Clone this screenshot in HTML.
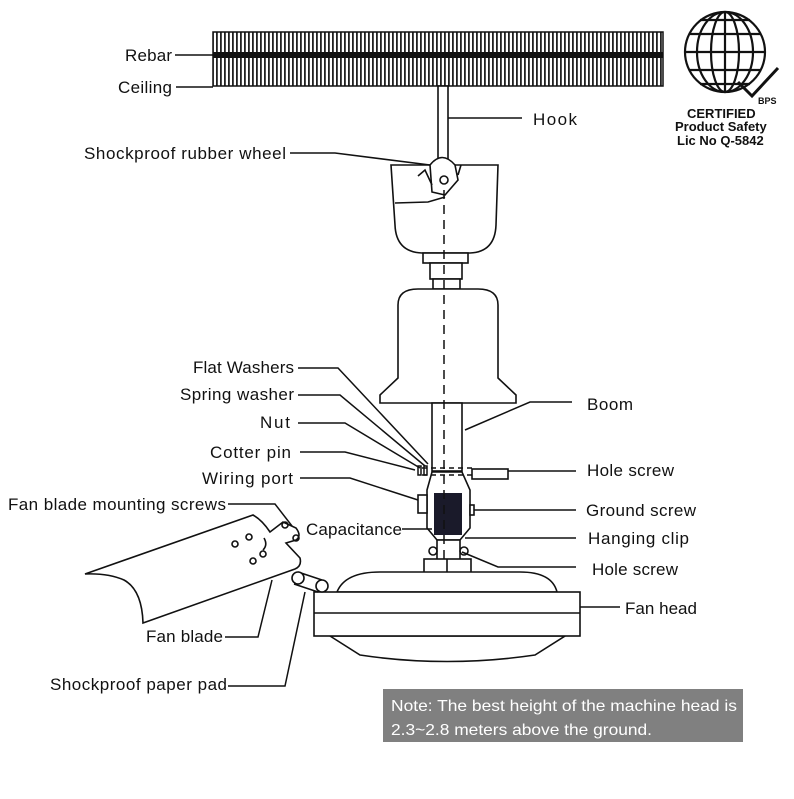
<!DOCTYPE html>
<html><head><meta charset="utf-8"><style>
html,body{margin:0;padding:0;background:#fff;}
svg text{font-family:"Liberation Sans",sans-serif;}
</style></head><body>
<svg width="794" height="794" viewBox="0 0 794 794" xmlns="http://www.w3.org/2000/svg">
<defs>
<pattern id="hatch" width="4" height="10" patternUnits="userSpaceOnUse">
<rect x="0" y="0" width="1.8" height="10" fill="#222"/>
</pattern>
</defs>
<rect width="794" height="794" fill="#fff"/>
<rect x="213" y="32" width="450" height="54" fill="url(#hatch)" stroke="#111" stroke-width="1.5"/>
<rect x="213" y="52" width="450" height="6" fill="#111"/>
<g stroke="#111" stroke-width="1.6" fill="none">
<rect x="438" y="86" width="10" height="80" fill="#fff"/>
<path d="M391,165 L498,165 L496,225 Q495,252 470,253 L422,253 Q396,252 395,225 Z" fill="#fff"/>
<path d="M395,203 L428,202 L445,197"/>
<path d="M430,165 Q442,150 455,165 L458,180 L445,195 L432,192 Z" fill="#fff"/>
<circle cx="444" cy="180" r="4"/>
<path d="M418,176 L425,170 L432,185"/>
<path d="M461,165 L458,175"/>
<rect x="423" y="253" width="45" height="10" fill="#fff"/>
<rect x="430" y="263" width="32" height="16" fill="#fff"/>
<rect x="433" y="279" width="27" height="10" fill="#fff"/>
<path d="M398,378 L398,305 Q398,289 418,289 L478,289 Q498,289 498,305 L498,378 L516,395 L516,403 L380,403 L380,395 Z" fill="#fff"/>
<rect x="432" y="403" width="30" height="68" fill="#fff"/>
<rect x="472" y="469" width="36" height="10" fill="#fff"/>
<path d="M432,472 L462,472 L470,490 L470,528 L460,540 L437,540 L427,528 L427,490 Z" fill="#fff"/>
<rect x="418" y="495" width="9" height="18" fill="#fff"/>
<rect x="470" y="505" width="4" height="10" fill="#fff"/>
<rect x="437" y="540" width="23" height="20" fill="#fff"/>
<circle cx="433" cy="551" r="4"/><circle cx="464" cy="551" r="4"/>
<rect x="424" y="559" width="47" height="14" fill="#fff"/>
<line x1="447" y1="559" x2="447" y2="573"/>
<path d="M337,592 Q345,572 380,572 L520,572 Q552,572 557,592 Z" fill="#fff"/>
<path d="M330,636 L360,655 Q447,668 535,655 L565,636 Z" fill="#fff"/>
<rect x="314" y="592" width="266" height="44" fill="#fff"/>
<line x1="314" y1="613" x2="580" y2="613"/>
<path d="M85,574 L253,515 Q262,520 270,532 L283,522 L296,528 Q302,536 296,540 L286,543 L300,558 Q302,566 295,569 L143,623 Q142,590 124,580 Q108,573 85,574 Z" fill="#fff"/>
<circle cx="285" cy="525" r="3"/><circle cx="296" cy="538" r="3"/>
<circle cx="249" cy="537" r="3"/><circle cx="235" cy="544" r="3"/>
<circle cx="263" cy="554" r="3"/><circle cx="253" cy="561" r="3"/>
<path d="M263,550 Q268,545 264,538"/>
<path d="M298,572 L322,580 M294,584 L318,592"/>
<circle cx="298" cy="578" r="6" fill="#fff"/><circle cx="322" cy="586" r="6" fill="#fff"/>
</g>
<rect x="434" y="493" width="28" height="42" fill="#1a1a2a"/>
<g stroke="#111" stroke-width="1.5" stroke-dasharray="9,6">
<line x1="444" y1="190" x2="444" y2="560"/>
</g>
<g stroke="#111" stroke-width="1.5" fill="none">
<line x1="422" y1="468" x2="472" y2="468" stroke-dasharray="5,4"/>
<line x1="422" y1="475" x2="472" y2="475" stroke-dasharray="5,4"/>
<rect x="418" y="466" width="3" height="9"/><rect x="424" y="466" width="3" height="9"/>
<line x1="175" y1="55" x2="213" y2="55"/>
<line x1="176" y1="87" x2="213" y2="87"/>
<line x1="448" y1="118" x2="522" y2="118"/>
<polyline points="290,153 335,153 430,165"/>
<polyline points="298,368 338,368 428,464"/>
<polyline points="298,395 340,395 425,466"/>
<polyline points="298,423 345,423 420,468"/>
<polyline points="300,452 345,452 415,470"/>
<polyline points="300,478 350,478 418,500"/>
<polyline points="228,504 275,504 292,526"/>
<line x1="402" y1="529" x2="432" y2="529"/>
<polyline points="572,402 530,402 465,430"/>
<line x1="508" y1="471" x2="576" y2="471"/>
<line x1="474" y1="510" x2="576" y2="510"/>
<line x1="465" y1="538" x2="576" y2="538"/>
<polyline points="462,552 498,567 576,567"/>
<line x1="580" y1="607" x2="620" y2="607"/>
<polyline points="225,637 258,637 272,580"/>
<polyline points="228,686 285,686 305,592"/>
</g>
<g font-size="17" fill="#111" lengthAdjust="spacingAndGlyphs">
<text x="125" y="61" textLength="47">Rebar</text>
<text x="118" y="93" textLength="54">Ceiling</text>
<text x="533" y="125" textLength="44">Hook</text>
<text x="84" y="159" textLength="202">Shockproof rubber wheel</text>
<text x="193" y="373" textLength="101">Flat Washers</text>
<text x="180" y="400" textLength="114">Spring washer</text>
<text x="260" y="428" textLength="30">Nut</text>
<text x="210" y="458" textLength="81">Cotter pin</text>
<text x="202" y="484" textLength="91">Wiring port</text>
<text x="8" y="510" textLength="218">Fan blade mounting screws</text>
<text x="306" y="535" textLength="96">Capacitance</text>
<text x="587" y="410" textLength="46">Boom</text>
<text x="587" y="476" textLength="87">Hole screw</text>
<text x="586" y="516" textLength="110">Ground screw</text>
<text x="588" y="544" textLength="101">Hanging clip</text>
<text x="592" y="575" textLength="86">Hole screw</text>
<text x="625" y="614" textLength="72">Fan head</text>
<text x="146" y="642" textLength="77">Fan blade</text>
<text x="50" y="690" textLength="177">Shockproof paper pad</text>
</g>
<g stroke="#111" stroke-width="2.2" fill="none">
<circle cx="725" cy="52" r="40"/>
<ellipse cx="725" cy="52" rx="14" ry="40"/>
<ellipse cx="725" cy="52" rx="28" ry="40"/>
<line x1="725" y1="12" x2="725" y2="92"/>
<line x1="685" y1="52" x2="765" y2="52"/>
<line x1="690" y1="34" x2="760" y2="34"/>
<line x1="690" y1="70" x2="760" y2="70"/>
<line x1="700" y1="20" x2="750" y2="20"/>
<line x1="700" y1="84" x2="750" y2="84"/>
<path d="M738,82 L752,96 L778,68" stroke-width="3"/>
</g>
<g fill="#111" font-weight="bold">
<text x="758" y="104" font-size="9">BPS</text>
<text x="687" y="118" font-size="13">CERTIFIED</text>
<text x="675" y="131" font-size="13">Product Safety</text>
<text x="677" y="145" font-size="13">Lic No Q-5842</text>
</g>
<rect x="383" y="689" width="360" height="53" fill="#808080"/>
<text x="391" y="711" font-size="16" fill="#fff" textLength="346" lengthAdjust="spacingAndGlyphs">Note: The best height of the machine head is</text>
<text x="391" y="735" font-size="16" fill="#fff" textLength="261" lengthAdjust="spacingAndGlyphs">2.3~2.8 meters above the ground.</text>
</svg>
</body></html>
